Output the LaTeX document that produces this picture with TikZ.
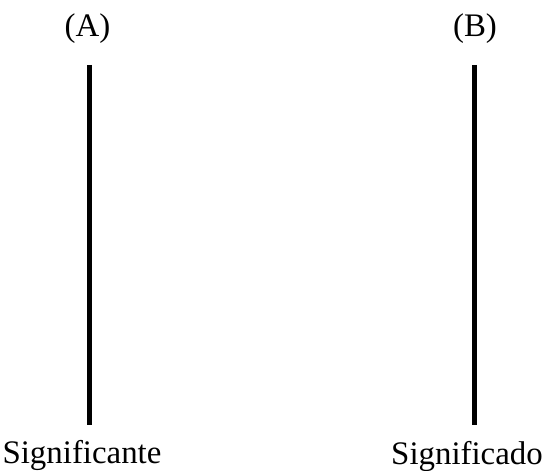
\documentclass[tikz,border=0pt]{standalone}
\usepackage{fontspec}
\setmainfont{Liberation Serif}
\begin{document}
\begin{tikzpicture}[x=1bp,y=1bp,
  lbl/.style={font=\fontsize{33}{38}\selectfont, inner sep=0pt, anchor=base},
  bar/.style={line width=5bp}]
\useasboundingbox (0,0) rectangle (542,471);
\node[lbl] (la) at (87.5,471-37) {(A)};
\node[lbl] (lb) at (475,471-37) {(B)};
\coordinate (a1) at (89.5,471-65);
\coordinate (a2) at (89.5,471-425);
\coordinate (b1) at (474,471-65);
\coordinate (b2) at (474,471-425);
\draw[bar] (a1) -- (a2);
\draw[bar] (b1) -- (b2);
\node[lbl] (sa) at (82,471-464) {Significante};
\node[lbl] (sb) at (467,471-465) {Significado};
\end{tikzpicture}
\end{document}
